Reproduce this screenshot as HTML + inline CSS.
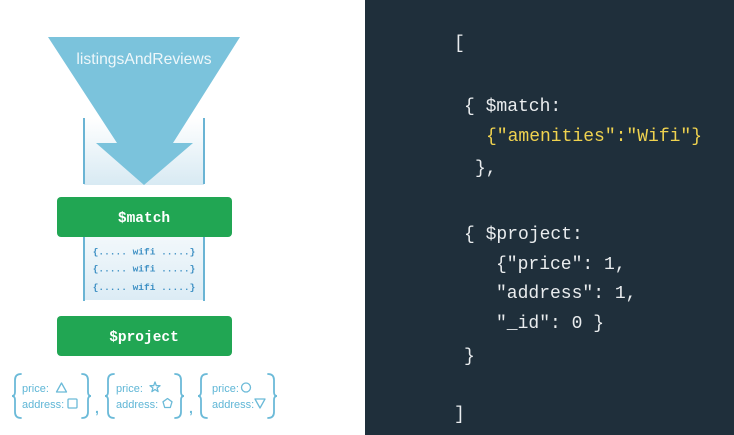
<!DOCTYPE html>
<html>
<head>
<meta charset="utf-8">
<style>
  html,body{margin:0;padding:0;background:#fff;}
  body{width:734px;height:435px;overflow:hidden;}
  svg{display:block;}
  .code{font-family:"Liberation Mono","DejaVu Sans Mono",monospace;font-size:18px;fill:#e9ecee;}
  .y{fill:#efd24f;}
  .lbl{font-family:"Liberation Sans",sans-serif;font-size:11px;fill:#5fb6d6;}
</style>
</head>
<body>
<svg width="734" height="435" viewBox="0 0 734 435" xmlns="http://www.w3.org/2000/svg">
  <defs>
    <linearGradient id="cg" x1="0" y1="0" x2="0" y2="1">
      <stop offset="0" stop-color="#ffffff"/>
      <stop offset="1" stop-color="#d8eaf3"/>
    </linearGradient>
    <linearGradient id="wg" x1="0" y1="0" x2="0" y2="1">
      <stop offset="0" stop-color="#f2f8fb"/>
      <stop offset="1" stop-color="#dcecf5"/>
    </linearGradient>
  </defs>
  <rect x="0" y="0" width="365" height="435" fill="#ffffff"/>
  <rect x="365" y="0" width="369" height="435" fill="#1f2f3b"/>

  <!-- container under arrow -->
  <rect x="84" y="118" width="120" height="67" fill="url(#cg)"/>
  <line x1="84" y1="118" x2="84" y2="184" stroke="#6ab4d4" stroke-width="2"/>
  <line x1="204" y1="118" x2="204" y2="184" stroke="#6ab4d4" stroke-width="2"/>

  <!-- big arrow -->
  <polygon points="48,37 240,37 173,143 193,143 144,185 96,143 117,143" fill="#7bc3dc"/>
  <text x="144" y="64" text-anchor="middle" font-family="Liberation Sans, sans-serif" font-size="15.7" fill="#eef7fa">listingsAndReviews</text>

  <!-- $match -->
  <rect x="57" y="197" width="175" height="40" rx="4" fill="#21a653"/>
  <text x="144" y="222" text-anchor="middle" font-family="Liberation Mono, monospace" font-size="14.5" font-weight="bold" fill="#ffffff">$match</text>

  <!-- wifi box -->
  <rect x="84" y="237" width="120" height="63" fill="url(#wg)"/>
  <line x1="84" y1="237" x2="84" y2="301" stroke="#6ab4d4" stroke-width="2"/>
  <line x1="204" y1="237" x2="204" y2="301" stroke="#6ab4d4" stroke-width="2"/>
  <g font-family="Liberation Mono, monospace" font-size="9.5" font-weight="bold" fill="#3e90c4" text-anchor="middle">
    <text x="144" y="254.5">{..... wifi .....}</text>
    <text x="144" y="271.5">{..... wifi .....}</text>
    <text x="144" y="290">{..... wifi .....}</text>
  </g>

  <!-- $project -->
  <rect x="57" y="316" width="175" height="40" rx="4" fill="#21a653"/>
  <text x="144" y="341" text-anchor="middle" font-family="Liberation Mono, monospace" font-size="14.5" font-weight="bold" fill="#ffffff">$project</text>

  <!-- braces -->
  <g fill="none" stroke="#6bbad8" stroke-width="1.8" stroke-linecap="round">
    <path d="M21 374 Q15 374 15 380 L15 392 Q15 396 12 396 Q15 396 15 400 L15 412 Q15 418 21 418"/>
    <path d="M82 374 Q88 374 88 380 L88 392 Q88 396 91 396 Q88 396 88 400 L88 412 Q88 418 82 418"/>
    <path d="M114 374 Q108 374 108 380 L108 392 Q108 396 105 396 Q108 396 108 400 L108 412 Q108 418 114 418"/>
    <path d="M175 374 Q181 374 181 380 L181 392 Q181 396 184 396 Q181 396 181 400 L181 412 Q181 418 175 418"/>
    <path d="M207 374 Q201 374 201 380 L201 392 Q201 396 198 396 Q201 396 201 400 L201 412 Q201 418 207 418"/>
    <path d="M268 374 Q274 374 274 380 L274 392 Q274 396 277 396 Q274 396 274 400 L274 412 Q274 418 268 418"/>
  </g>
  <g font-family="Liberation Sans, sans-serif" font-size="14" font-weight="bold" fill="#6bbad8">
    <text x="95" y="413">,</text>
    <text x="189" y="413">,</text>
  </g>
  <g class="lbl">
    <text x="22" y="392">price:</text>
    <text x="22" y="408">address:</text>
    <text x="116" y="392">price:</text>
    <text x="116" y="408">address:</text>
    <text x="212" y="392">price:</text>
    <text x="212" y="408">address:</text>
  </g>
  <g fill="none" stroke="#6bbad8" stroke-width="1.3" stroke-linejoin="round">
    <polygon points="61.5,383 66.5,392 56.5,392"/>
    <rect x="68" y="399" width="9" height="9" rx="1"/>
    <polygon points="155,382 156.3,385.6 160,385.7 157.1,388 158.1,391.6 155,389.5 151.9,391.6 152.9,388 150,385.7 153.7,385.6"/>
    <polygon points="167.5,398.5 172,401.8 170.3,407.5 164.7,407.5 163,401.8"/>
    <circle cx="246" cy="387.5" r="4.5"/>
    <polygon points="255,399 265,399 260,408"/>
  </g>

  <!-- code -->
  <g class="code">
    <text x="454" y="48">[</text>
    <text x="464" y="111">{ $match:</text>
    <text x="486" y="141" class="y">{"amenities":"Wifi"}</text>
    <text x="475" y="173">},</text>
    <text x="464" y="239">{ $project:</text>
    <text x="496" y="269">{"price": 1,</text>
    <text x="496" y="298">"address": 1,</text>
    <text x="496" y="328">"_id": 0 }</text>
    <text x="464" y="361">}</text>
    <text x="454" y="419">]</text>
  </g>
</svg>
</body>
</html>
